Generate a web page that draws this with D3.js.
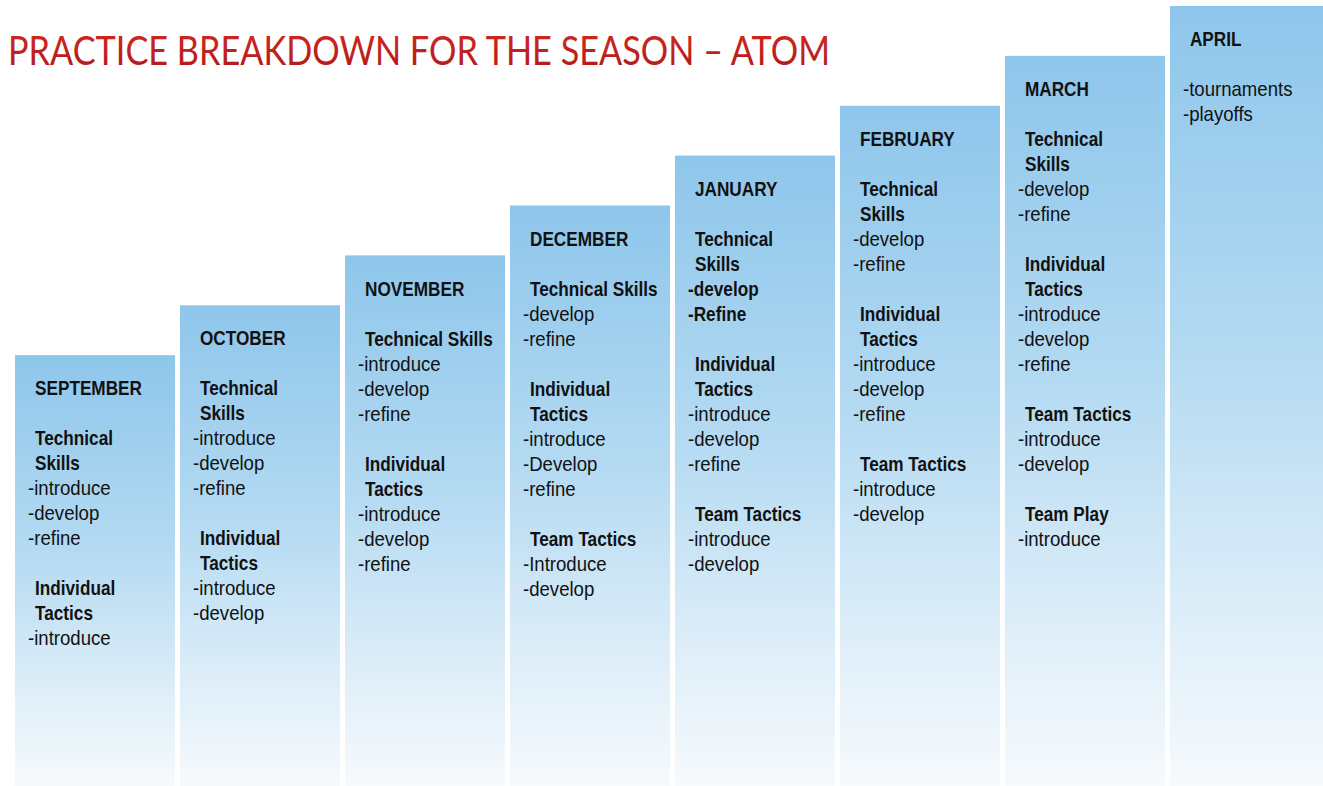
<!DOCTYPE html>
<html>
<head>
<meta charset="utf-8">
<script src="https://cdn.jsdelivr.net/npm/d3@7"></script>
<style>
  html, body { margin: 0; padding: 0; background: #fff; overflow: hidden; }
  svg { display: block; }
</style>
</head>
<body>
<svg id="chart" width="1323" height="786"></svg>
<script>
// months and their step level (1 = lowest column)
var months = ["SEPTEMBER", "OCTOBER", "NOVEMBER", "DECEMBER", "JANUARY", "FEBRUARY", "MARCH", "APRIL"];
var levels = [1, 2, 3, 4, 5, 6, 7, 8];

// lines in each column: "h:" = bold heading, "b:" = bold item, "" = blank line, anything else = plain item
var sepLines = ["", "h:Technical", "h:Skills", "-introduce", "-develop", "-refine", "", "h:Individual", "h:Tactics", "-introduce"];
var octLines = ["", "h:Technical", "h:Skills", "-introduce", "-develop", "-refine", "", "h:Individual", "h:Tactics", "-introduce", "-develop"];
var novLines = ["", "h:Technical Skills", "-introduce", "-develop", "-refine", "", "h:Individual", "h:Tactics", "-introduce", "-develop", "-refine"];
var decLines = ["", "h:Technical Skills", "-develop", "-refine", "", "h:Individual", "h:Tactics", "-introduce", "-Develop", "-refine", "", "h:Team Tactics", "-Introduce", "-develop"];
var janLines = ["", "h:Technical", "h:Skills", "b:-develop", "b:-Refine", "", "h:Individual", "h:Tactics", "-introduce", "-develop", "-refine", "", "h:Team Tactics", "-introduce", "-develop"];
var febLines = ["", "h:Technical", "h:Skills", "-develop", "-refine", "", "h:Individual", "h:Tactics", "-introduce", "-develop", "-refine", "", "h:Team Tactics", "-introduce", "-develop"];
var marLines = ["", "h:Technical", "h:Skills", "-develop", "-refine", "", "h:Individual", "h:Tactics", "-introduce", "-develop", "-refine", "", "h:Team Tactics", "-introduce", "-develop", "", "h:Team Play", "-introduce"];
var aprLines = ["", "-tournaments", "-playoffs"];
var columnLines = [sepLines, octLines, novLines, decLines, janLines, febLines, marLines, aprLines];

var titleText = "PRACTICE BREAKDOWN FOR THE SEASON \u2013 ATOM";

var width = 1323, height = 786;
var svg = d3.select("#chart");
var defs = svg.append("defs");

// column fill: blue at the top fading to white
var grad = defs.append("linearGradient")
    .attr("id", "colFill")
    .attr("x1", 0).attr("y1", 0).attr("x2", 0).attr("y2", 1);
grad.append("stop").attr("offset", "0%").attr("stop-color", "#8ec6eb");
grad.append("stop").attr("offset", "45%").attr("stop-color", "#b4daf2");
grad.append("stop").attr("offset", "80%").attr("stop-color", "#e0eff9");
grad.append("stop").attr("offset", "100%").attr("stop-color", "#f6fafd");

var titleGrad = defs.append("linearGradient")
    .attr("id", "titleFill")
    .attr("x1", 0).attr("y1", 0).attr("x2", 0).attr("y2", 1);
titleGrad.append("stop").attr("offset", "0%").attr("stop-color", "#d42a1e");
titleGrad.append("stop").attr("offset", "100%").attr("stop-color", "#ae1a1a");

var x = d3.scaleBand()
    .domain(months)
    .range([15, 1330])
    .paddingInner(0.03)
    .paddingOuter(0);

// each step up raises the column top by 50px
var y = d3.scaleLinear()
    .domain([0, 8])
    .range([405, 6]);

var lineHeight = 25;
var bodyFont = "'Liberation Sans', Arial, sans-serif";

// narrow look: squeeze Arial-like glyphs horizontally
function addLine(g, tx, ty, txt, bold) {
    g.append("text")
        .attr("transform", "translate(" + tx + "," + ty + ") scale(" + (bold ? 0.86 : 0.93) + ",1)")
        .attr("dy", "0.36em")
        .style("font-family", bodyFont)
        .style("font-weight", bold ? "bold" : "normal")
        .style("font-size", "20px")
        .style("fill", "#111")
        .text(txt);
}

var cols = svg.selectAll("g.col")
    .data(months.map(function(m, i) { return { month: m, level: levels[i], lines: columnLines[i] }; }))
    .enter()
    .append("g")
    .attr("class", "col")
    .attr("transform", function(d) { return "translate(" + x(d.month) + ",0)"; });

cols.append("rect")
    .attr("x", 0)
    .attr("y", function(d) { return y(d.level); })
    .attr("width", x.bandwidth())
    .attr("height", function(d) { return height - y(d.level); })
    .attr("fill", "url(#colFill)");

cols.each(function(d) {
    var g = d3.select(this);
    var top = y(d.level) + 33;
    addLine(g, 20, top, d.month, true);
    d.lines.forEach(function(line, i) {
        if (line === "") return;
        var bold = line.indexOf("h:") === 0 || line.indexOf("b:") === 0;
        var heading = line.indexOf("h:") === 0;
        addLine(g, heading ? 20 : 13, top + (i + 1) * lineHeight, bold ? line.slice(2) : line, bold);
    });
});

svg.append("text")
    .attr("x", 8)
    .attr("y", 65)
    .attr("textLength", 822)
    .attr("lengthAdjust", "spacingAndGlyphs")
    .style("font-family", "Lato, 'Open Sans', sans-serif")
    .style("font-size", "41px")
    .style("fill", "url(#titleFill)")
    .text(titleText);
</script>
</body>
</html>
